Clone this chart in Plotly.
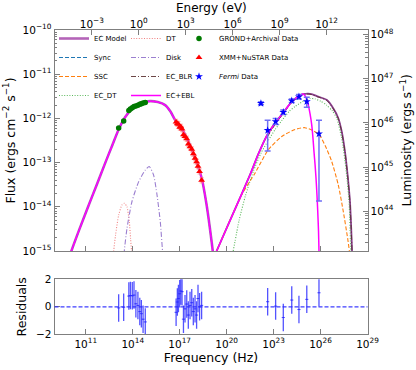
import numpy as np
import plotly.graph_objects as go

# ---------------- values (log10 units) ----------------
H_EV = 4.135667696e-15          # Planck constant (eV s) for the Energy axis
LUM_OFFSET = 58.1                # log10(L) - log10(F)

# tick labels
freq_tick_exp = [11, 14, 17, 20, 23, 26, 29]
energy_tick_exp = [-3, 0, 3, 6, 9, 12]
flux_tick_exp = [-15, -14, -13, -12, -11, -10]
lum_tick_exp = [44, 45, 46, 47, 48]
res_ticks = [-2, 0, 2]

# synchrotron bump (Sync and the low-energy part of the total model)
sync_lognu = [9.9, 10.08, 10.6, 11.19, 11.7, 12.25, 12.7, 13.1, 13.5, 13.95, 14.5, 15.11,
              15.6, 16.07, 16.4, 16.71, 17.24, 17.87, 18.41, 18.72, 19.04, 19.11, 19.2]
sync_logF = [-15.2, -15.0, -14.5, -13.96, -13.5, -13.0, -12.6, -12.25, -11.98, -11.78, -11.65, -11.61,
             -11.63, -11.70, -11.84, -12.04, -12.30, -12.79, -13.36, -13.96, -14.79, -15.0, -15.4]

# total EC model, high-energy bump
ecm_lognu = [19.2, 19.36, 20.5, 21.49, 22.02, 22.6, 23.13, 23.62, 24.16, 24.69, 24.9, 25.2, 25.43,
             25.8, 26.39, 26.81, 27.13, 27.35, 27.56, 27.73, 27.88, 27.96, 28.01, 28.04]
ecm_logF = [-15.13, -15.0, -14.08, -13.28, -12.81, -12.37, -12.09, -11.87, -11.62, -11.48, -11.45, -11.44, -11.45,
            -11.5, -11.58, -11.77, -11.99, -12.29, -12.75, -13.28, -13.88, -14.49, -15.0, -15.4]

# EC_BLR (coincides with the total at high energies)
blr_lognu = [22.6, 23.13, 23.62, 24.16, 24.69, 24.9, 25.2, 25.43, 25.8, 26.39, 26.81, 27.13, 27.35,
             27.56, 27.73, 27.88, 27.96, 28.01, 28.04]
blr_logF = [-12.42, -12.12, -11.89, -11.64, -11.49, -11.46, -11.45, -11.46, -11.51, -11.59, -11.78, -12.0, -12.3,
            -12.76, -13.29, -13.89, -14.5, -15.0, -15.4]

# SSC
ssc_lognu = [19.36, 20.46, 21.0, 21.81, 22.66, 23.52, 24.37, 25.0, 25.54, 25.9, 26.3, 26.71,
             27.13, 27.45, 27.73, 27.84, 27.9]
ssc_logF = [-15.0, -14.11, -13.7, -13.24, -12.71, -12.41, -12.25, -12.21, -12.28, -12.36, -12.62, -12.97,
            -13.5, -14.1, -14.71, -15.0, -15.3]

# EC_DT
ecdt_lognu = [20.42, 20.8, 21.2, 21.7, 22.2, 22.66, 23.1, 23.52, 24.0, 24.37, 25.0, 25.33, 25.65,
              26.0, 26.39, 26.75, 27.03, 27.35, 27.62, 27.82, 27.93, 27.97]
ecdt_logF = [-15.0, -14.3, -13.75, -13.2, -12.78, -12.5, -12.25, -12.05, -11.84, -11.73, -11.59, -11.55, -11.56,
             -11.61, -11.70, -11.83, -11.99, -12.45, -13.13, -13.88, -15.0, -15.4]

# DT (dusty torus)
dt_lognu = [12.72, 12.78, 12.9, 13.1, 13.31, 13.47, 13.63, 13.78, 13.86, 13.92, 13.95]
dt_logF = [-15.3, -15.0, -14.64, -14.19, -13.96, -13.92, -14.0, -14.34, -14.71, -15.0, -15.3]

# Disk
disk_lognu = [13.4, 13.46, 13.63, 13.95, 14.38, 14.8, 15.05, 15.33, 15.55, 15.76, 15.9, 15.95]
disk_logF = [-15.3, -15.0, -14.49, -13.88, -13.43, -13.17, -13.09, -13.28, -13.73, -14.34, -15.0, -15.3]

# EC+EBL (absorbed total, high-energy part)
ebl_lognu = [19.2, 19.36, 20.5, 21.49, 22.02, 22.6, 23.13, 23.62, 24.16, 24.69, 24.85, 25.0, 25.12,
             25.22, 25.33, 25.43, 25.51, 25.58, 25.65, 25.71, 25.77, 25.82, 25.87, 25.9, 25.92]
ebl_logF = [-15.13, -15.0, -14.08, -13.28, -12.81, -12.37, -12.09, -11.87, -11.62, -11.48, -11.45, -11.48, -11.58,
            -11.70, -11.9, -12.13, -12.42, -12.75, -13.05, -13.35, -13.72, -14.1, -14.55, -15.0, -15.3]

# data: GROND + archival (optical/IR)
grond_lognu = [13.1, 13.42, 13.75, 13.85, 13.97, 14.08, 14.2, 14.33, 14.45, 14.55, 14.66, 14.8]
grond_logF = [-12.22, -12.06, -11.82, -11.79, -11.76, -11.73, -11.72, -11.70, -11.68, -11.67, -11.65, -11.64]
grond_res = [-0.08, -0.03, 0.78, 0.82, 0.8, 0.85, 0.22, 0.1, -0.35, -0.5, -0.9, -1.1]

# data: XMM + NuSTAR (X-ray)
xray_lognu = [16.77, 16.85, 16.92, 17.0, 17.07, 17.15, 17.24, 17.34, 17.45, 17.55, 17.66, 17.77,
              17.87, 17.98, 18.08, 18.17, 18.27, 18.4]
xray_logF = [-12.08, -12.12, -12.13, -12.2, -12.19, -12.24, -12.37, -12.41, -12.46, -12.58, -12.64, -12.70,
             -12.8, -12.9, -12.98, -13.08, -13.2, -13.4]
xray_res = [-0.4, 0.35, 0.6, 0.95, 1.15, 1.1, -0.9, -0.15, 0.2, -0.6, 0.1, 0.3,
            -0.35, -0.15, -0.6, 0.6, 0.0, 0.1]

# data: Fermi (gamma-ray)
fermi_lognu = [22.19, 22.62, 23.13, 23.62, 24.16, 24.62, 25.12, 25.9]
fermi_logF = [-11.66, -12.27, -12.07, -11.86, -11.6, -11.51, -11.62, -12.35]
fermi_logF_hi = [-11.63, -12.04, -12.0, -11.81, -11.56, -11.46, -11.52, -12.04]
fermi_logF_lo = [-11.69, -12.74, -12.14, -11.91, -11.64, -11.56, -11.75, -13.87]
fermi_res_lognu = [22.62, 23.13, 23.62, 24.16, 24.62, 25.12, 25.9]
fermi_res = [0.37, 0.05, -0.78, 0.49, -0.2, 0.54, 1.02]

RES_ERR = 1.0        # residual error bars (normalised)
RES_XHALF = 0.1      # half width in decades of the residual crosses


def lin(v):
    return np.power(10.0, np.asarray(v, dtype=float))


def pow_text(exps):
    return ["10<sup>" + str(e).replace("-", "\u2212") + "</sup>" for e in exps]


FONT = "DejaVu Sans"
GRAY = "#7f7f7f"
W, H = 416, 370

fig = go.Figure()


def curve(lognu, logF, name, color, width, dash, legend, show=True):
    fig.add_trace(go.Scatter(
        x=lin(lognu), y=lin(logF), mode="lines", name=name,
        line=dict(color=color, width=width, dash=dash, shape="spline", smoothing=0.6),
        legend=legend, showlegend=show, hoverinfo="skip", xaxis="x", yaxis="y"))


# total model (sync part + IC part)
curve(sync_lognu, sync_logF, "EC Model", "#b464b8", 2.6, "solid", "legend")
curve(ecm_lognu, ecm_logF, "EC Model", "#8a3f8e", 1.8, "solid", "legend", show=False)
curve(sync_lognu, sync_logF, "Sync", "#1f77b4", 1.1, "4px,2px", "legend")
curve(ssc_lognu, ssc_logF, "SSC", "#ff7f0e", 1.1, "4px,2px", "legend")
curve(ecdt_lognu, ecdt_logF, "EC_DT", "#5cb85c", 1.1, "1px,1.6px", "legend")
curve(dt_lognu, dt_logF, "DT", "#f08080", 1.1, "1px,1.6px", "legend2")
curve(disk_lognu, disk_logF, "Disk", "#9b7fd0", 1.1, "5px,2px,1px,2px", "legend2")
curve(blr_lognu, blr_logF, "EC_BLR", "#5a3030", 0.9, "5px,2px,1px,2px", "legend2")
curve(sync_lognu, sync_logF, "EC+EBL", "#ff00ff", 1.5, "solid", "legend2")
curve(ebl_lognu, ebl_logF, "EC+EBL", "#ff00ff", 1.5, "solid", "legend2", show=False)

# data
g_nu, g_F = lin(grond_lognu), lin(grond_logF)
fig.add_trace(go.Scatter(
    x=g_nu, y=g_F, mode="markers", name="GROND+Archival Data", legend="legend3",
    marker=dict(symbol="circle", size=5.5, color="#007a00"),
    error_y=dict(type="data", array=g_F * (10 ** 0.02 - 1), arrayminus=g_F * (1 - 10 ** -0.02),
                 color="#007a00", thickness=1, width=1.5),
    hoverinfo="skip", xaxis="x", yaxis="y"))

x_nu, x_F = lin(xray_lognu), lin(xray_logF)
fig.add_trace(go.Scatter(
    x=x_nu, y=x_F, mode="markers", name="XMM+NuSTAR Data", legend="legend3",
    marker=dict(symbol="triangle-up", size=6, color="#ff0000"),
    error_y=dict(type="data", array=x_F * (10 ** 0.06 - 1), arrayminus=x_F * (1 - 10 ** -0.06),
                 color="rgba(255,120,120,0.6)", thickness=1, width=2),
    error_x=dict(type="data", array=x_nu * (10 ** 0.07 - 1), arrayminus=x_nu * (1 - 10 ** -0.07),
                 color="rgba(255,120,120,0.6)", thickness=1, width=2),
    hoverinfo="skip", xaxis="x", yaxis="y"))

f_nu, f_F = lin(fermi_lognu), lin(fermi_logF)
fig.add_trace(go.Scatter(
    x=f_nu, y=f_F, mode="markers", name="<i>Fermi</i> Data", legend="legend3",
    marker=dict(symbol="star", size=6, color="#0000ff"),
    error_y=dict(type="data", array=lin(fermi_logF_hi) - f_F, arrayminus=f_F - lin(fermi_logF_lo),
                 color="#6f6ff5", thickness=1.5, width=3),
    hoverinfo="skip", xaxis="x", yaxis="y"))

# residuals
for lnu, res in ((grond_lognu, grond_res), (xray_lognu, xray_res), (fermi_res_lognu, fermi_res)):
    nu = lin(lnu)
    fig.add_trace(go.Scatter(
        x=nu, y=res, mode="markers", showlegend=False,
        marker=dict(size=1, color="rgba(40,40,255,0.8)"),
        error_y=dict(type="constant", value=RES_ERR, color="rgba(40,40,255,0.8)", thickness=1.3, width=0),
        error_x=dict(type="data", array=nu * (10 ** RES_XHALF - 1), arrayminus=nu * (1 - 10 ** -RES_XHALF),
                     color="rgba(40,40,255,0.8)", thickness=1, width=0),
        hoverinfo="skip", xaxis="x2", yaxis="y2"))

# placeholders so the twin axes are drawn
fig.add_trace(go.Scatter(x=[None], y=[None], xaxis="x3", yaxis="y", showlegend=False, hoverinfo="skip"))
fig.add_trace(go.Scatter(x=[None], y=[None], xaxis="x", yaxis="y3", showlegend=False, hoverinfo="skip"))

XDOM = [54.5 / W, 367.5 / W]
MAIN_Y = [1 - 251 / H, 1 - 30 / H]
RES_Y = [1 - 334.3 / H, 1 - 279.3 / H]
XR = [9, 29]
EXR = [XR[0] + np.log10(H_EV), XR[1] + np.log10(H_EV)]
YR = [-15, -10]

base = dict(showline=True, linecolor=GRAY, linewidth=1, ticks="inside", tickcolor=GRAY,
            ticklen=5, tickwidth=1, showgrid=False, zeroline=False, automargin=False,
            tickfont=dict(size=10.5, family=FONT, color="black"))
minor = dict(ticks="inside", ticklen=2.5, tickcolor=GRAY, tickwidth=0.8, showgrid=False, dtick="D1")
title_font = dict(size=12.5, family=FONT, color="black")
leg = dict(xanchor="left", yanchor="top", bgcolor="rgba(0,0,0,0)",
           font=dict(size=7, family=FONT), itemwidth=30, tracegroupgap=0)

fig.update_layout(
    width=W, height=H, margin=dict(l=0, r=0, t=0, b=0),
    paper_bgcolor="white", plot_bgcolor="white",
    font=dict(family=FONT, color="black"),
    xaxis=dict(base, type="log", range=XR, domain=XDOM, anchor="y",
               tickvals=lin(freq_tick_exp), showticklabels=False),
    yaxis=dict(base, type="log", range=YR, domain=MAIN_Y, anchor="x",
               tickvals=lin(flux_tick_exp), ticktext=pow_text(flux_tick_exp), minor=minor,
               title=dict(text="Flux (ergs cm<sup>−2</sup> s<sup>−1</sup>)", font=title_font, standoff=4)),
    xaxis3=dict(base, type="log", range=EXR, overlaying="x", side="top", anchor="y",
                tickvals=lin(energy_tick_exp), ticktext=pow_text(energy_tick_exp), ticklabelstandoff=-3),
    yaxis3=dict(base, type="log", range=[YR[0] + LUM_OFFSET, YR[1] + LUM_OFFSET], overlaying="y",
                side="right", anchor="x", tickvals=lin(lum_tick_exp), ticktext=pow_text(lum_tick_exp),
                minor=minor),
    xaxis2=dict(base, type="log", range=XR, domain=XDOM, anchor="y2", mirror=True,
                tickvals=lin(freq_tick_exp), ticktext=pow_text(freq_tick_exp),
                title=dict(text="Frequency (Hz)", font=title_font, standoff=0)),
    yaxis2=dict(base, range=[-2, 2], domain=RES_Y, anchor="x2", tickvals=res_ticks, mirror=True,
                title=dict(text="Residuals", font=title_font, standoff=6)),
    legend=dict(leg, x=54 / W, y=1 - 24 / H),
    legend2=dict(leg, x=126 / W, y=1 - 24 / H),
    legend3=dict(leg, x=179 / W, y=1 - 24 / H),
    shapes=[dict(type="line", xref="x2 domain", x0=0, x1=1, yref="y2", y0=0, y1=0,
                 line=dict(color="rgba(40,40,255,0.9)", width=1.2, dash="4px,2px"))],
    annotations=[
        dict(text="Energy (eV)", xref="paper", yref="paper", x=(XDOM[0] + XDOM[1]) / 2, y=1 - 8 / H,
             xanchor="center", yanchor="middle", showarrow=False, font=dict(title_font, size=12)),
        dict(text="Luminosity (ergs s<sup>−1</sup>)", xref="paper", yref="paper", x=405 / W,
             y=(MAIN_Y[0] + MAIN_Y[1]) / 2, xanchor="center", yanchor="middle", textangle=-90,
             showarrow=False, font=title_font),
    ],
)

# the page has no body margin, so the 416x370 figure fills the window exactly
fig.write_html("out.html", config={"displayModeBar": False},
               post_script="document.body.style.margin='0px';")
